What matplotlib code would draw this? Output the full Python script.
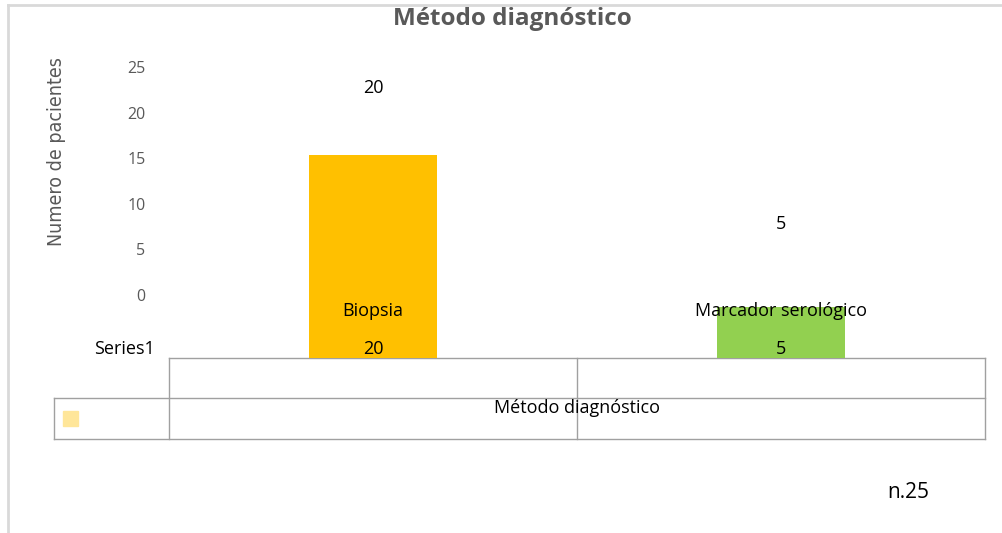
import matplotlib
matplotlib.use("Agg")
import matplotlib.pyplot as plt
from matplotlib.patches import Rectangle

# data
categories = ["Biopsia", "Marcador serológico"]
values = [20, 5]
series_name = "Series1"
axis_title = "Método diagnóstico"
y_ticks = [0, 5, 10, 15, 20, 25]
total_note = "n.25"

bar_colors = ["#FFC000", "#92D050"]
gray = "#595959"
grid_gray = "#A0A0A0"

plt.rcParams['font.family'] = ['Open Sans', 'DejaVu Sans']

W, H = 1002, 533


def fx(px):
    return px / W


def fy(py):
    return 1 - py / H


fig = plt.figure(figsize=(W / 100, H / 100), dpi=100)

# overlay in pixel units for frame, table grid and loose texts
ov = fig.add_axes([0, 0, 1, 1])
ov.set_xlim(0, W)
ov.set_ylim(H, 0)
ov.axis('off')

# chart frame (top and left edges visible)
ov.plot([8, W], [5, 5], color="#D9D9D9", lw=2)
ov.plot([8, 8], [5, H], color="#D9D9D9", lw=2)

# bars (scale: 0 at the table top)
x = list(range(len(categories)))
ax_bar = fig.add_axes([fx(169), fy(358), (985 - 169) / W, (358 - 55) / H])
ax_bar.bar(x, values, width=0.316, color=bar_colors)
ax_bar.set_xlim(-0.5, 1.5)
ax_bar.set_ylim(0, (358 - 55) / 10.15)
ax_bar.axis('off')

# value axis with tick labels and category labels
ax_t = fig.add_axes([fx(169), fy(295), (985 - 169) / W, (295 - 67) / H])
ax_t.patch.set_visible(False)
for s in ax_t.spines.values():
    s.set_visible(False)
ax_t.set_xlim(-0.5, 1.5)
ax_t.set_ylim(0, 25)
ax_t.set_yticks(y_ticks)
ax_t.set_yticklabels([str(t) for t in y_ticks], color=gray, fontsize=11.5)
ax_t.set_xticks(x)
ax_t.set_xticklabels(categories, fontsize=13, color="black")
ax_t.tick_params(axis='y', length=0, pad=17)
ax_t.tick_params(axis='x', length=0, pad=5)

for i, v in zip(x, values):
    ax_t.annotate(str(v), (i, v), xytext=(0, 18), textcoords='offset points',
                  ha='center', va='center', fontsize=13, color="black")

# table row with the series values
for i, v in zip(x, values):
    ax_bar.text(i, 0.9, str(v), ha='center', va='center', fontsize=13)
ov.text(124, 349, series_name, ha='center', va='center', fontsize=13)

# table grid
ov.plot([169, 985], [358, 358], color=grid_gray, lw=1)
ov.plot([54, 985], [398, 398], color=grid_gray, lw=1)
ov.plot([54, 985], [439, 439], color=grid_gray, lw=1)
ov.plot([54, 54], [398, 439], color=grid_gray, lw=1)
ov.plot([169, 169], [358, 439], color=grid_gray, lw=1)
ov.plot([577, 577], [358, 439], color=grid_gray, lw=1)
ov.plot([985, 985], [358, 439], color=grid_gray, lw=1)
ov.add_patch(Rectangle((63, 411), 15, 15, color="#FFE699"))
ov.text(577, 408, axis_title, ha='center', va='center', fontsize=13)

# titles and note
ov.text(512, 19, axis_title, ha='center', va='center', fontsize=17.5,
        fontweight='bold', color=gray)
ov.text(57, 152, "Numero de pacientes", rotation=90, ha='center', va='center',
        fontsize=14, color=gray, family='DejaVu Sans', fontstretch='condensed')
ov.text(908, 493, total_note, ha='center', va='center', fontsize=15)

fig.savefig("out.png", dpi=100)
